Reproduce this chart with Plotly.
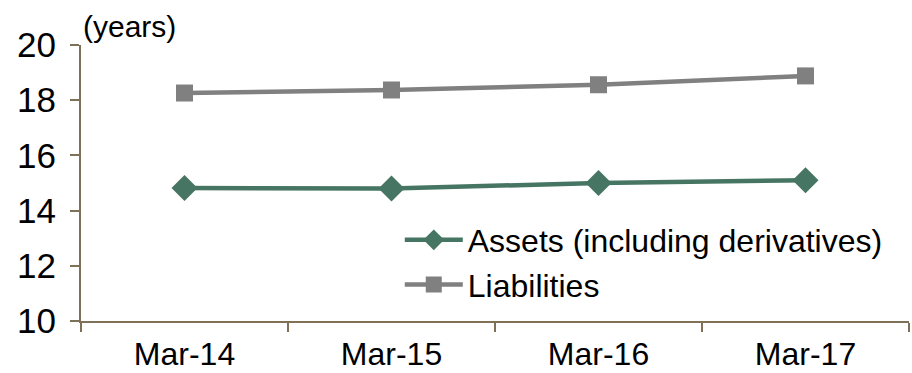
import plotly.graph_objects as go

periods = ["Mar-14", "Mar-15", "Mar-16", "Mar-17"]
assets = [14.82, 14.80, 15.00, 15.10]
liabilities = [18.26, 18.37, 18.56, 18.88]

axis_color = "#7f7157"
font_family = "Liberation Sans, Arial, sans-serif"

fig = go.Figure()
fig.add_trace(go.Scatter(
    x=periods, y=assets, name="Assets (including derivatives)",
    mode="lines+markers",
    line=dict(color="#467563", width=4.5),
    marker=dict(symbol="diamond", size=20, color="#467563"),
))
fig.add_trace(go.Scatter(
    x=periods, y=liabilities, name="Liabilities",
    mode="lines+markers",
    line=dict(color="#808080", width=4.5),
    marker=dict(symbol="square", size=17, color="#808080"),
))

fig.update_layout(
    width=912, height=373,
    margin=dict(l=81, r=3, t=45, b=52),
    paper_bgcolor="white", plot_bgcolor="white",
    font=dict(family=font_family, size=32, color="black"),
    legend=dict(
        x=0.385, y=0.393, xanchor="left", yanchor="top",
        bgcolor="rgba(0,0,0,0)", font=dict(size=32),
        itemwidth=58, tracegroupgap=0,
    ),
    annotations=[dict(
        text="(years)", xref="paper", yref="paper",
        x=0.0, y=1.0, xanchor="left", yanchor="bottom",
        showarrow=False, font=dict(size=30),
    )],
)
fig.update_xaxes(
    type="category", range=[-0.5, 3.5], automargin=False,
    showline=True, linecolor=axis_color, linewidth=2,
    ticks="outside", tickson="boundaries", ticklen=9,
    tickcolor=axis_color, tickwidth=2,
    tickfont=dict(size=32), ticklabelstandoff=4,
    showgrid=False, zeroline=False,
)
fig.update_yaxes(
    range=[10, 20], dtick=2, automargin=False,
    showline=True, linecolor=axis_color, linewidth=2,
    ticks="outside", ticklen=9, tickcolor=axis_color, tickwidth=2,
    tickfont=dict(size=35), ticklabelstandoff=7,
    showgrid=False, zeroline=False,
)

fig.write_html("out.html")
